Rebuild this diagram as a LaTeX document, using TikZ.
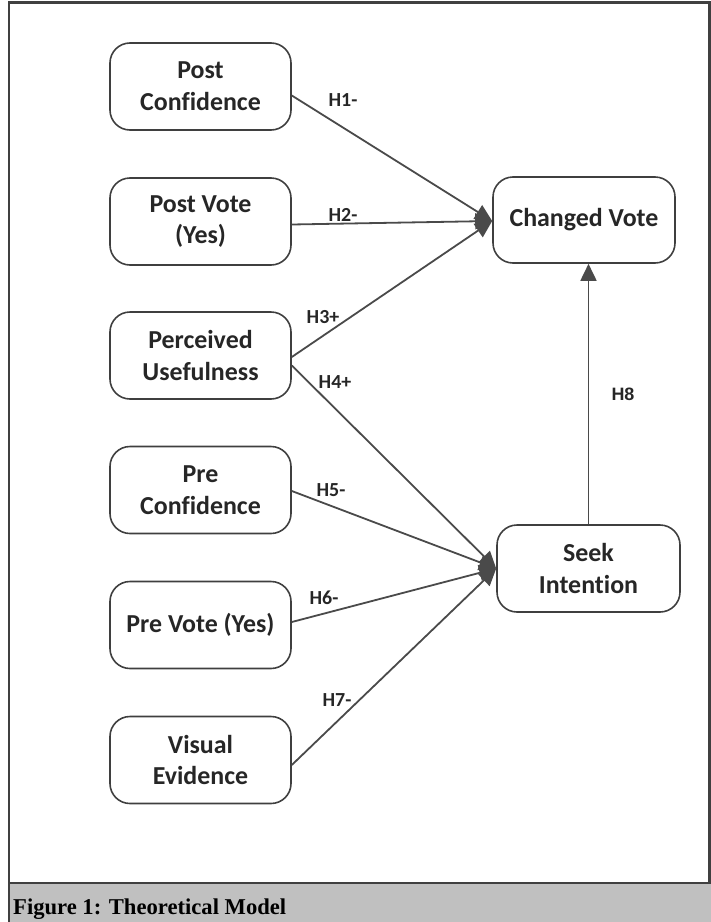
\documentclass[tikz,border=0pt]{standalone}
\usepackage{fontspec}
\setmainfont[Ligatures=NoCommon]{Carlito}
\newfontfamily\capfont{Liberation Serif}
\newfontfamily\hfont{Liberation Sans}
\usetikzlibrary{arrows.meta,positioning}
\definecolor{linegray}{HTML}{4A4A4A}
\definecolor{boxgray}{HTML}{3F3F3F}
\definecolor{bandgray}{HTML}{C0C0C0}
\definecolor{framegray}{HTML}{404040}
\begin{document}
\begin{tikzpicture}[x=1bp,y=-1bp,
  varbox/.style={draw=boxgray,line width=1.6bp,rounded corners=20bp,
    minimum width=181bp,minimum height=87bp,align=center,inner sep=2bp,
    text=black!85,font=\fontsize{26}{32}\selectfont\bfseries},
  link/.style={draw=linegray,line width=1.8bp,
    -{Triangle[length=17bp,width=16bp]}},
  hlab/.style={text=black!85,font=\fontsize{20}{22}\selectfont\bfseries,inner sep=0pt}]
\useasboundingbox (0,0) rectangle (711,922);
% frame and caption band
\fill[bandgray] (9,883) rectangle (711,922);
\draw[framegray,line width=2.5bp] (9,922) -- (9,2.5) -- (709.5,2.5) -- (709.5,883);
\draw[framegray,line width=2.5bp] (9,883) -- (711,883);
\node[anchor=base west,inner sep=0pt,text=black,font=\capfont\fontsize{22.7}{24}\selectfont\bfseries] (cap) at (13,914) {Figure 1: Theoretical Model};
% nodes
\node[varbox] (pc) at (200.5,86.5) {Post\\Confidence};
\node[varbox] (pv) at (200.5,221.5) {Post Vote\\(Yes)};
\node[varbox] (pu) at (200.5,355.5) {Perceived\\Usefulness};
\node[varbox] (prc) at (200.5,490) {Pre\\Confidence};
\node[varbox] (prv) at (200.5,625) {Pre Vote (Yes)};
\node[varbox] (ve) at (200.5,760) {Visual\\Evidence};
\node[varbox,minimum width=182bp,minimum height=86bp] (cv) at (584,220) {Changed Vote};
\node[varbox,minimum width=183bp] (si) at (588.5,568.5) {Seek\\Intention};
% connectors
\draw[link] ([yshift=-9bp]pc.east) -- ([yshift=-1bp]cv.west);
\draw[link] ([yshift=-3bp]pv.east) -- ([yshift=-1bp]cv.west);
\draw[link] ([yshift=-1.5bp]pu.east) -- ([yshift=-1bp]cv.west);
\draw[link] ([yshift=-10bp]pu.east) -- (si.west);
\draw[link] ([yshift=-1bp]prc.east) -- (si.west);
\draw[link] ([yshift=3bp]prv.east) -- (si.west);
\draw[link] ([yshift=-5bp]ve.east) -- (si.west);
\draw[link] (si.north) -- (si.north |- cv.south);
% labels
\node[hlab] (l1) at (343,100) {H1-};
\node[hlab] (l2) at (343,215) {H2-};
\node[hlab] (l3) at (323,317) {H3+};
\node[hlab] (l4) at (335,382) {H4+};
\node[hlab] (l5) at (331,490) {H5-};
\node[hlab] (l6) at (324,598) {H6-};
\node[hlab] (l7) at (337,700) {H7-};
\node[hlab,font=\hfont\fontsize{18}{20}\selectfont\bfseries] (l8) at (623,394) {H8};
\end{tikzpicture}
\end{document}
